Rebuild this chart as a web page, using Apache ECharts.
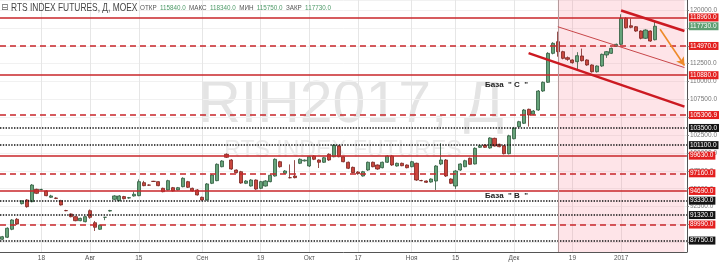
<!DOCTYPE html>
<html><head><meta charset="utf-8">
<script src="https://cdn.jsdelivr.net/npm/echarts@6/dist/echarts.min.js"></script>
<style>html,body{margin:0;padding:0;background:#fff}#c{width:720px;height:266px}</style>
</head><body><div id="c"></div>
<script>
const categories = [
'2016-07-06','2016-07-07','2016-07-08','2016-07-11','2016-07-12','2016-07-13','2016-07-14','2016-07-15','2016-07-18','2016-07-19','2016-07-20','2016-07-21','2016-07-22','2016-07-25','2016-07-26','2016-07-27','2016-07-28','2016-07-29',
'2016-08-01','2016-08-02','2016-08-03','2016-08-04','2016-08-05','2016-08-08','2016-08-09','2016-08-10','2016-08-11','2016-08-12','2016-08-15','2016-08-16','2016-08-17','2016-08-18','2016-08-19','2016-08-22','2016-08-23','2016-08-24','2016-08-25','2016-08-26','2016-08-29','2016-08-30','2016-08-31',
'2016-09-01','2016-09-02','2016-09-05','2016-09-06','2016-09-07','2016-09-08','2016-09-09','2016-09-12','2016-09-13','2016-09-14','2016-09-15','2016-09-16','2016-09-19','2016-09-20','2016-09-21','2016-09-22','2016-09-23','2016-09-26','2016-09-27','2016-09-28','2016-09-29','2016-09-30',
'2016-10-03','2016-10-04','2016-10-05','2016-10-06','2016-10-07','2016-10-10','2016-10-11','2016-10-12','2016-10-13','2016-10-14','2016-10-17','2016-10-18','2016-10-19','2016-10-20','2016-10-21','2016-10-24','2016-10-25','2016-10-26','2016-10-27','2016-10-28','2016-10-31',
'2016-11-01','2016-11-02','2016-11-03','2016-11-07','2016-11-08','2016-11-09','2016-11-10','2016-11-11','2016-11-14','2016-11-15','2016-11-16','2016-11-17','2016-11-18','2016-11-21','2016-11-22','2016-11-23','2016-11-24','2016-11-25','2016-11-28','2016-11-29','2016-11-30',
'2016-12-01','2016-12-02','2016-12-05','2016-12-06','2016-12-07','2016-12-08','2016-12-09','2016-12-12','2016-12-13','2016-12-14','2016-12-15','2016-12-16','2016-12-19','2016-12-20','2016-12-21','2016-12-22','2016-12-23','2016-12-26','2016-12-27','2016-12-28','2016-12-29','2016-12-30',
'2017-01-03','2017-01-04','2017-01-05','2017-01-06','2017-01-09','2017-01-10','2017-01-11','2017-01-12','2017-01-13','2017-01-16','2017-01-17','2017-01-18','2017-01-19','2017-01-20'
];
const opens = [
87930,88210,89330,90730,92910,93430,93190,94920,94880,94690,
93800,93700,93330,91950,91470,91090,90530,90390,91930,90250,
89330,91000,91880,93520,93330,93900,93700,93990,94030,95850,
95520,96040,95990,95060,94830,95150,94830,95290,95990,95060,
94830,93800,93430,95760,96130,98080,99820,99020,97620,97380,
95760,95380,96220,95060,95380,95990,96780,98780,97160,96550,
96780,98560,98900,98180,99580,99020,98700,99820,99480,100980,
99480,98700,97990,97340,96780,97620,98700,98320,97940,98700,
99580,98180,98560,98320,98080,98560,96150,96080,95940,96080,
98460,99020,96360,95380,97620,98080,99260,98460,100790,101120,
100700,102050,101220,101000,99900,102000,103680,104150,106110,105410,
106010,108670,109890,113940,115570,114170,113330,113010,112770,113570,
113010,112310,111370,112170,113710,113940,114920,115200,118840,117800,
117660,117060,116040,117060,115840];
const closes = [
88290,89470,90630,90070,93290,92490,95520,94360,94900,94030,
93990,93650,92730,91930,91090,90530,90860,91090,91000,89610,
89890,91010,91950,93990,93990,93610,93750,94230,95990,95430,
95500,96020,95430,94590,96130,94690,95150,96460,95200,94690,
94130,93430,95670,96920,98420,98880,99400,97760,97250,95800,
96080,96220,94960,95990,96080,96880,99120,98080,97480,96540,
96550,99120,99000,99480,99120,98700,99340,99020,101120,99480,
98780,97860,97240,97120,97380,98700,98080,97760,98700,99580,
98320,98560,98220,97940,98780,96220,96120,95900,96360,98180,
99020,96780,95760,97480,98460,98920,98420,100650,101020,100790,
102100,100980,100880,99900,102400,103500,104380,106010,105310,105870,
108670,109890,113940,115340,114170,113240,113100,112630,113610,112910,
112310,111370,112170,113800,114170,114640,115200,118840,117520,117580,
117060,116040,117200,115660,117730];
const lows = [
87850,88100,89200,89950,92800,92350,93100,94250,94800,93950,
93700,93550,92650,91850,91000,90450,90450,90300,90800,89090,
89250,90600,91800,93400,93250,93500,93600,93900,93950,95350,
95400,95950,95350,94500,94750,94600,94750,95200,95100,94600,
94050,93350,93350,95650,96050,98000,99300,97650,97150,95700,
95650,95300,94850,94950,95300,95900,96700,97950,97050,96450,
96450,98450,98800,98050,99000,97900,98600,98900,99400,99400,
98700,97750,97150,96950,96700,97500,98000,97650,97850,98600,
98200,98100,98150,97850,98000,96100,96050,95800,95850,94830,
98300,96650,95650,94970,97500,98000,98350,98400,100700,100700,
100600,100900,100800,99800,99800,101900,103600,104050,103700,105300,
105900,108550,109800,113800,113470,113100,112900,112500,111750,112800,
112200,111250,111250,112050,113300,113850,114850,115100,117400,117450,
116950,115900,115950,115550,115750];
const highs = [
88400,89600,90750,90900,93400,93550,95650,95000,95000,94800,
94150,93800,93450,92050,91550,91200,90950,91200,92100,90490,
90000,91050,92050,94100,94100,94000,93850,94600,96300,96100,
95600,96100,96050,95150,96250,95250,95250,96600,96100,95150,
94950,93900,95800,97050,98550,99000,99950,99150,97700,97500,
96200,96350,96300,96100,96200,97000,99250,98900,97600,98400,
99000,99250,99100,99600,99700,99100,99450,99950,101250,101100,
99580,98800,98100,97450,97500,98800,98800,98400,98800,99700,
99700,98650,98650,98400,98900,98650,96250,96150,96450,98300,
101360,99150,96450,97600,98550,99050,99350,100800,101100,101200,
102200,102150,101300,101100,102550,103650,104500,106150,106200,106000,
108800,110000,114100,115500,116970,114300,113500,113100,114100,114600,
113100,112400,112250,113900,114250,114750,115300,119400,119000,118800,
117750,117150,117300,117150,118340];

const tickDates = ['2016-07-18','2016-08-01','2016-08-15','2016-09-01','2016-09-19','2016-10-03','2016-10-17','2016-11-01','2016-11-15','2016-12-01','2016-12-19','2017-01-03'];
const tickLabels = ['18','Авг','15','Сен','19','Окт','17','Ноя','15','Дек','19','2017'];

const levelValues = [118960, 114970, 110880, 105306.9, 103500, 101100, 99630, 97160, 94690, 93330, 91320, 89990, 87750];
const levelKinds = ['solid','dashed','solid','dashed','dotted','dotted','solid','dashed','solid','dotted','dotted','dashed','dotted'];
const lastClose = 117730;

const zoneStart = '2016-12-14';
const zoneEnd = '2017-01-20';
const trendThin = [['2016-12-14', 117660], ['2017-01-20', 111950]];
const trendLower = [['2016-12-06', 113960], ['2017-01-20', 106480]];
const trendUpper = [['2017-01-03', 119930], ['2017-01-20', 117060]];
const arrowLine = [['2017-01-13', 117300], ['2017-01-20', 112240]];

const header = {title: 'RTS INDEX FUTURES, Д, MOEX', open: '115840.0', high: '118340.0', low: '115750.0', close: '117730.0'};

const candleData = opens.map((o, i) => [o, closes[i], lows[i], highs[i]]);
const tickSet = new Set(tickDates);
const tickMap = {}; tickDates.forEach((d, i) => tickMap[d] = tickLabels[i]);

const RED = '#c8262a', LBL_RED = '#e3201f', BLACK = '#111';
function levelItem(v, kind) {
  const isBlack = kind === 'dotted';
  return {
    yAxis: v,
    lineStyle: {
      color: isBlack ? BLACK : RED,
      width: kind === 'solid' ? 1.6 : 1.5,
      type: kind === 'solid' ? 'solid' : (kind === 'dashed' ? [6, 4] : [1.4, 1.4])
    },
    label: {backgroundColor: isBlack ? '#141414' : LBL_RED}
  };
}
const markLineData = levelValues.map((v, i) => levelItem(v, levelKinds[i]));
markLineData.push({yAxis: lastClose, lineStyle: {color: 'rgba(0,0,0,0)', width: 0}, label: {backgroundColor: '#5e9e72'}});
markLineData.push({xAxis: zoneStart, lineStyle: {color: '#b59a9c', width: 1, type: 'solid'}, label: {show: false}});
function seg(pts, style, endSymbol) {
  return [
    {coord: pts[0], symbol: 'none', lineStyle: style, label: {show: false}},
    {coord: pts[1], symbol: endSymbol || 'none', symbolSize: endSymbol ? [7, 8] : 0}
  ];
}
markLineData.push(seg(trendThin, {color: '#c8474a', width: 1, type: 'solid'}));
markLineData.push(seg(trendLower, {color: '#cc1a22', width: 2.5, type: 'solid'}));
markLineData.push(seg(trendUpper, {color: '#cc1a22', width: 2.5, type: 'solid'}));
markLineData.push(seg(arrowLine, {color: '#ee8a2a', width: 1.6, type: 'solid'}, 'arrow'));

const chart = echarts.init(document.getElementById('c'), null, {renderer: 'canvas'});
chart.setOption({
  animation: false,
  backgroundColor: '#fff',
  grid: {left: -1, right: 28, top: 0, bottom: 14},
  xAxis: {
    type: 'category', data: categories, boundaryGap: true,
    axisLine: {lineStyle: {color: '#555', width: 1}},
    axisTick: {show: false},
    axisLabel: {
      interval: (i, v) => tickSet.has(v),
      formatter: v => tickMap[v] || '',
      fontSize: 6.5, color: '#555', margin: 3, fontFamily: 'Liberation Sans'
    },
    splitLine: {show: true, alignWithLabel: true, interval: (i, v) => tickSet.has(v), lineStyle: {color: '#e6e6e6', width: 1}}
  },
  yAxis: {
    type: 'value', position: 'right', min: 86150, max: 121400,
    minInterval: 2500, maxInterval: 2500, scale: true,
    axisLine: {show: true, lineStyle: {color: '#555', width: 1}},
    axisTick: {show: true, length: 2, lineStyle: {color: '#777'}},
    axisLabel: {fontSize: 6.5, color: '#777', margin: 3, formatter: v => v.toFixed(1), showMinLabel: false, showMaxLabel: false, fontFamily: 'Liberation Sans'},
    splitLine: {show: true, lineStyle: {color: '#f1f1f1', width: 1}}
  },
  graphic: [
    {type: 'text', z: 0, silent: true, style: {text: 'RIH2017, Д', x: 351, y: 106, textAlign: 'center', textVerticalAlign: 'middle', fill: '#e4e4e4', font: '59px "Liberation Sans"'}},
    {type: 'text', z: 0, silent: true, style: {text: 'RTS INDEX FUTURES', x: 343, y: 151, textAlign: 'center', textVerticalAlign: 'middle', fill: '#ebebeb', font: '23px "Liberation Sans"'}},
    {type: 'text', z: 10, silent: true, style: {text: '⊟', x: 1, y: 8, textVerticalAlign: 'middle', fill: '#666', font: '9px "DejaVu Sans"'}},
    {type: 'text', z: 10, silent: true, x: 11, y: 8, scaleX: 0.8, style: {text: header.title, x: 0, y: 0, textVerticalAlign: 'middle', fill: '#444', font: '10.5px "Liberation Sans"'}},
    {type: 'text', z: 10, silent: true, style: {
      x: 140, y: 8, textVerticalAlign: 'middle',
      text: '{l|ОТКР} {v|' + header.open + '} {l|МАКС} {v|' + header.high + '} {l|МИН} {v|' + header.low + '} {l|ЗАКР} {v|' + header.close + '}',
      rich: {l: {fill: '#555', font: '6.3px "Liberation Sans"'}, v: {fill: '#4e9a68', font: '6.3px "Liberation Sans"'}}
    }},
    {type: 'text', z: 10, silent: true, style: {text: 'База  " D  "', x: 482, y: -2, textVerticalAlign: 'middle', fill: '#222', font: 'bold 8px "Liberation Sans"'}},
    {type: 'text', z: 10, silent: true, style: {text: 'База  " C  "', x: 485, y: 84.5, textVerticalAlign: 'middle', fill: '#222', font: 'bold 8px "Liberation Sans"'}},
    {type: 'text', z: 10, silent: true, style: {text: 'База  " B  "', x: 485, y: 195.5, textVerticalAlign: 'middle', fill: '#222', font: 'bold 8px "Liberation Sans"'}}
  ],
  series: [{
    type: 'candlestick',
    data: candleData,
    barWidth: 3.6,
    itemStyle: {color: '#66a37a', color0: '#c9473e', borderColor: '#2e5b3d', borderColor0: '#7a2320', borderWidth: 0.8},
    markArea: {silent: true, itemStyle: {color: 'rgba(248, 120, 140, 0.2)'}, data: [[{xAxis: zoneStart}, {xAxis: zoneEnd}]]},
    markLine: {
      silent: true, symbol: ['none', 'none'], animation: false,
      label: {show: true, position: 'end', distance: 2, color: '#fff', fontSize: 6.5, fontFamily: 'Liberation Sans', padding: [1, 2, 0, 1], formatter: p => Number(p.value).toFixed(1)},
      data: markLineData
    }
  }]
});
</script></body></html>
